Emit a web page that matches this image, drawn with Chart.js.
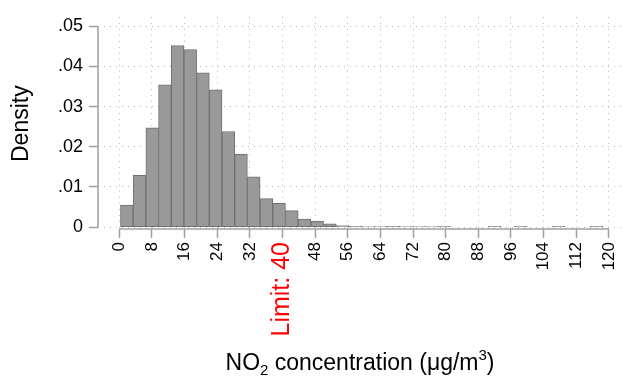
<!DOCTYPE html>
<html><head><meta charset="utf-8">
<script src="https://cdn.jsdelivr.net/npm/chart.js@4.4.1/dist/chart.umd.min.js"></script>
<style>html,body{margin:0;padding:0;background:#fff}#wrap{width:634px;height:381px}</style>
</head><body><div id="wrap"><canvas id="c" width="634" height="381"></canvas></div>
<script>
// ---- data ----
const binCenters = [1.86, 4.97, 8.08, 11.19, 14.30, 17.41, 20.52, 23.63, 26.74, 29.85,
  32.96, 36.07, 39.18, 42.29, 45.40, 48.51, 51.62, 54.73, 57.84, 60.95,
  64.06, 67.17, 70.28, 73.39, 76.50, 79.61, 82.72, 85.83, 88.94, 92.05,
  95.16, 98.27, 101.38, 104.49, 107.60, 110.71, 113.82, 116.93];
const densities = [0.0055, 0.0129, 0.0247, 0.0354, 0.0452, 0.0442, 0.0384, 0.0342, 0.0238, 0.0182,
  0.0125, 0.0071, 0.0059, 0.0041, 0.0020, 0.0015, 0.0008, 0.0004, 0.0002, 0.0001,
  0.0001, 0.0002, 0.0001, 0.0001, 0.0001, 0.0002, null, null, null, 0.0002,
  null, 0.0002, null, null, 0.0002, null, null, 0.0002];
const xTickValues = [0, 8, 16, 24, 32, 40, 48, 56, 64, 72, 80, 88, 96, 104, 112, 120];
const yTickValues = [0, 0.01, 0.02, 0.03, 0.04, 0.05];
const limitValue = 40;
const limitLabel = 'Limit: 40';
const yTitle = 'Density';
const xTitleParts = [
  {t: 'NO', sub: 0},
  {t: '2', sub: 1},
  {t: ' concentration (\u03BCg/m', sub: 0},
  {t: '3', sub: -1},
  {t: ')', sub: 0}
];

const FONT = 'Liberation Sans, Arial, sans-serif';
const AXIS_GRAY = '#a0a0a0';
const GRID_GRAY = '#b8b8b8';

const axisPlugin = {
  id: 'stataAxes',
  afterDatasetsDraw(chart) {
    const ctx = chart.ctx, xs = chart.scales.x, ys = chart.scales.y, ca = chart.chartArea;
    ctx.save();
    ctx.strokeStyle = AXIS_GRAY;
    ctx.lineWidth = 1.5;
    ctx.setLineDash([]);
    ctx.beginPath();
    ctx.moveTo(ca.left, ys.getPixelForValue(yTickValues[0]));
    ctx.lineTo(ca.left, ys.getPixelForValue(yTickValues[yTickValues.length - 1]));
    ctx.moveTo(xs.getPixelForValue(xTickValues[0]), ca.bottom);
    ctx.lineTo(xs.getPixelForValue(xTickValues[xTickValues.length - 1]), ca.bottom);
    ctx.stroke();
    ctx.restore();
  },
  afterDraw(chart) {
    const ctx = chart.ctx, ys = chart.scales.y, ca = chart.chartArea;
    ctx.save();
    ctx.fillStyle = '#000';
    // y title
    const yc = (ys.getPixelForValue(yTickValues[0]) + ys.getPixelForValue(yTickValues[yTickValues.length - 1])) / 2;
    ctx.translate(22, yc - 3);
    ctx.rotate(-Math.PI / 2);
    ctx.font = '23px ' + FONT;
    ctx.textAlign = 'center';
    ctx.textBaseline = 'middle';
    ctx.fillText(yTitle, 0, 0);
    ctx.setTransform(1, 0, 0, 1, 0, 0);
    // x title with sub/superscripts
    ctx.textAlign = 'left';
    ctx.textBaseline = 'alphabetic';
    const big = '23px ' + FONT, small = '15px ' + FONT;
    let total = 0;
    xTitleParts.forEach(p => { ctx.font = p.sub ? small : big; total += ctx.measureText(p.t).width; });
    let x = (ca.left + ca.right) / 2 - total / 2;
    const base = 370;
    xTitleParts.forEach(p => {
      ctx.font = p.sub ? small : big;
      const dy = p.sub === 1 ? 5 : (p.sub === -1 ? -10 : 0);
      ctx.fillText(p.t, x, base + dy);
      x += ctx.measureText(p.t).width;
    });
    ctx.restore();
  }
};

const gridOpts = {
  display: true, drawOnChartArea: true, drawTicks: true, offset: false,
  color: GRID_GRAY, lineWidth: 1,
  tickColor: AXIS_GRAY, tickBorderDash: [], tickBorderDashOffset: 0, tickLength: 9, tickWidth: 1.5
};

new Chart(document.getElementById('c'), {
  type: 'bar',
  data: {
    datasets: [{
      data: binCenters.map((c, i) => ({x: c, y: densities[i]})),
      backgroundColor: '#999999',
      borderColor: '#707070',
      borderWidth: 1,
      borderSkipped: false,
      barPercentage: 1,
      categoryPercentage: 1
    }]
  },
  options: {
    responsive: false,
    animation: false,
    devicePixelRatio: 1,
    layout: {padding: {top: 4, right: 12, left: 0, bottom: 0}},
    plugins: {legend: {display: false}, tooltip: {enabled: false}},
    scales: {
      x: {
        type: 'linear',
        offset: false,
        min: -5.2, max: 123.2,
        afterFit(s) { s.height = 152; },
        afterBuildTicks(s) { s.ticks = xTickValues.map(v => ({value: v})); },
        grid: gridOpts,
        border: {display: false, dash: [1, 5], dashOffset: 0},
        ticks: {
          autoSkip: false, minRotation: 90, maxRotation: 90, padding: 4,
          color: (c) => (c.tick && c.tick.value === limitValue) ? '#ff0000' : '#000000',
          font: (c) => (c.tick && c.tick.value === limitValue) ? {family: FONT, size: 25} : {family: FONT, size: 17},
          callback: (v) => v === limitValue ? limitLabel : String(v)
        }
      },
      y: {
        min: -0.00047, max: 0.05235,
        afterFit(s) { s.width = 98; },
        afterBuildTicks(s) { s.ticks = yTickValues.map(v => ({value: v})); },
        grid: gridOpts,
        border: {display: false, dash: [1, 5], dashOffset: 0},
        ticks: {
          padding: 6, color: '#000', font: {family: FONT, size: 18},
          callback: (v) => v === 0 ? '0' : v.toFixed(2).replace(/^0/, '')
        }
      }
    }
  },
  plugins: [axisPlugin]
});
</script></body></html>
